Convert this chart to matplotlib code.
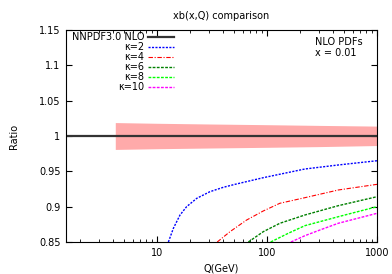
import matplotlib
matplotlib.use('Agg')
import matplotlib.pyplot as plt
import numpy as np

# band of the NNPDF3.0 NLO reference
q_band = [4.18, 10, 30, 100, 300, 1000]
band_up = [1.019, 1.018, 1.017, 1.016, 1.015, 1.014]
band_lo = [0.981, 0.982, 0.983, 0.984, 0.985, 0.9865]

# kappa curves
q_k2 = [12.7, 14.1, 16.2, 18.6, 23.0, 30.3, 40.1, 51.2, 92.5, 221, 445, 1000]
r_k2 = [0.85, 0.8694, 0.8882, 0.900, 0.9118, 0.9212, 0.9274, 0.9316, 0.941, 0.9533, 0.959, 0.965]
q_k4 = [35.3, 46.1, 65.3, 92.5, 131, 221, 445, 1000]
r_k4 = [0.85, 0.8646, 0.8811, 0.8939, 0.9048, 0.9127, 0.9236, 0.9316]
q_k6 = [67.7, 92.5, 131, 221, 445, 1000]
r_k6 = [0.85, 0.8646, 0.8765, 0.8882, 0.9014, 0.9141]
q_k8 = [108, 156, 221, 445, 1000]
r_k8 = [0.85, 0.8623, 0.8731, 0.8858, 0.900]
q_k10 = [165, 221, 303, 445, 1000]
r_k10 = [0.85, 0.8589, 0.867, 0.8765, 0.8906]

plt.rcParams['font.family'] = 'DejaVu Sans'
fig = plt.figure(figsize=(3.92, 2.74), dpi=100)
ax = fig.add_axes([66/392, 1-242/274, 311/392, 212/274])

ax.fill_between(q_band, band_lo, band_up, color='#ffaaaa', lw=0)
ax.axhline(1.0, color='#333333', lw=1.6)
ax.plot(q_k2, r_k2, color='#0000ff', ls=(0, (1.5, 1)), lw=1)
ax.plot(q_k4, r_k4, color='#ff0000', ls=(0, (4, 1.5, 1, 1.5)), lw=0.8)
ax.plot(q_k6, r_k6, color='#008000', ls=(0, (2, 1)), lw=1)
ax.plot(q_k8, r_k8, color='#00ff00', ls=(0, (2, 1)), lw=1)
ax.plot(q_k10, r_k10, color='#ff00ff', ls=(0, (2, 1)), lw=1)

ax.set_xscale('log')
ax.set_xlim(1.49, 1000)
ax.set_ylim(0.85, 1.15)
ax.set_yticks([0.85, 0.9, 0.95, 1.0, 1.05, 1.1, 1.15])
ax.set_yticklabels(['0.85', '0.9', '0.95', '1', '1.05', '1.1', '1.15'])
ax.set_xticks([10, 100, 1000])
ax.set_xticklabels(['10', '100', '1000'])
ax.tick_params(which='both', direction='in', top=True, right=True, labelsize=7, pad=4)
ax.tick_params(which='major', length=4)
ax.tick_params(which='minor', length=2)
for s in ax.spines.values():
    s.set_linewidth(0.8)

ax.set_title('xb(x,Q) comparison', fontsize=7, pad=8)
ax.set_xlabel('Q(GeV)', fontsize=7, labelpad=4)
ax.set_ylabel('Ratio', fontsize=7, labelpad=14)

# gnuplot style key
labels = ['NNPDF3.0 NLO', 'κ=2', 'κ=4', 'κ=6', 'κ=8', 'κ=10']
styles = [('#333333', '-', 1.6), ('#0000ff', (0, (1.5, 1)), 1),
          ('#ff0000', (0, (4, 1.5, 1, 1.5)), 0.8), ('#008000', (0, (2, 1)), 1),
          ('#00ff00', (0, (2, 1)), 1), ('#ff00ff', (0, (2, 1)), 1)]
for i, (lab, (c, ls, lw)) in enumerate(zip(labels, styles)):
    y = 1 - (7 + 10*i)/212
    ax.text(78/311, y, lab, transform=ax.transAxes, ha='right', va='center', fontsize=7)
    ax.plot([82/311, 108/311], [y, y], transform=ax.transAxes, color=c, ls=ls, lw=lw)

ax.text(249/311, 1 - 12/212, 'NLO PDFs', transform=ax.transAxes, ha='left', va='center', fontsize=7)
ax.text(249/311, 1 - 23/212, 'x = 0.01', transform=ax.transAxes, ha='left', va='center', fontsize=7)

fig.savefig('out.png', dpi=100)
